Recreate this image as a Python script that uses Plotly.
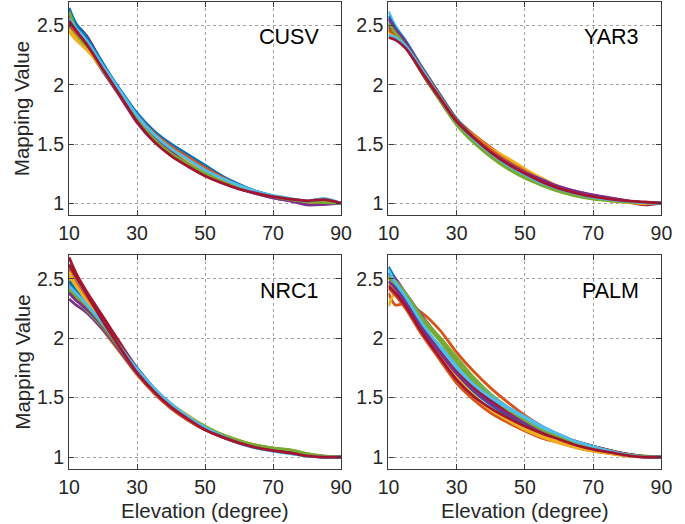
import plotly.graph_objects as go

# ---------------- data ----------------
elevation = [10, 12, 15, 20, 25, 30, 35, 40, 45, 50, 55, 60, 65, 70, 75, 80, 85, 90]
x_ticks = [10, 30, 50, 70, 90]
y_ticks = [1, 1.5, 2, 2.5]
y_tick_labels = ["1", "1.5", "2", "2.5"]
stations = ["CUSV", "YAR3", "NRC1", "PALM"]

cusv = [
    [2.60, 2.50, 2.40, 2.17, 1.96, 1.76, 1.61, 1.50, 1.41, 1.32, 1.23, 1.16, 1.10, 1.06, 1.035, 1.015, 1.005, 1.0],
    [2.50, 2.42, 2.33, 2.13, 1.92, 1.72, 1.57, 1.47, 1.38, 1.29, 1.21, 1.145, 1.09, 1.055, 1.03, 1.01, 1.005, 1.0],
    [2.47, 2.40, 2.32, 2.14, 1.93, 1.71, 1.55, 1.44, 1.35, 1.26, 1.19, 1.135, 1.09, 1.055, 1.03, 1.012, 1.005, 1.0],
    [2.52, 2.44, 2.33, 2.11, 1.90, 1.68, 1.52, 1.41, 1.32, 1.24, 1.17, 1.12, 1.08, 1.045, 1.02, 0.99, 0.99, 1.0],
    [2.55, 2.44, 2.32, 2.12, 1.91, 1.70, 1.53, 1.41, 1.32, 1.24, 1.175, 1.125, 1.085, 1.05, 1.03, 1.01, 1.005, 1.0],
    [2.58, 2.50, 2.38, 2.16, 1.94, 1.73, 1.56, 1.44, 1.34, 1.25, 1.19, 1.14, 1.095, 1.06, 1.035, 1.015, 1.04, 1.0],
    [2.52, 2.50, 2.42, 2.17, 1.92, 1.69, 1.53, 1.44, 1.37, 1.30, 1.22, 1.15, 1.10, 1.06, 1.035, 1.01, 1.0, 1.0],
    [2.65, 2.52, 2.41, 2.18, 1.95, 1.75, 1.60, 1.49, 1.40, 1.31, 1.22, 1.155, 1.10, 1.06, 1.035, 1.015, 1.005, 1.0],
    [2.55, 2.45, 2.35, 2.15, 1.94, 1.74, 1.59, 1.48, 1.39, 1.30, 1.22, 1.15, 1.095, 1.055, 1.03, 1.01, 1.005, 1.0],
    [2.45, 2.38, 2.30, 2.13, 1.93, 1.73, 1.58, 1.46, 1.36, 1.27, 1.19, 1.13, 1.085, 1.05, 1.03, 1.012, 1.005, 1.0],
    [2.58, 2.47, 2.36, 2.14, 1.92, 1.71, 1.55, 1.43, 1.33, 1.25, 1.18, 1.125, 1.08, 1.045, 1.02, 0.985, 0.99, 1.0],
    [2.62, 2.48, 2.36, 2.15, 1.93, 1.71, 1.54, 1.42, 1.33, 1.25, 1.18, 1.13, 1.09, 1.055, 1.03, 1.012, 1.005, 1.0],
    [2.56, 2.48, 2.38, 2.16, 1.95, 1.74, 1.58, 1.46, 1.37, 1.28, 1.21, 1.15, 1.10, 1.065, 1.04, 1.02, 1.035, 1.0],
    [2.54, 2.46, 2.35, 2.13, 1.91, 1.69, 1.52, 1.40, 1.31, 1.23, 1.17, 1.12, 1.085, 1.055, 1.035, 1.02, 1.03, 1.0],
]

yar3 = [
    [2.55, 2.47, 2.37, 2.13, 1.91, 1.70, 1.56, 1.44, 1.34, 1.26, 1.18, 1.12, 1.08, 1.05, 1.03, 1.015, 1.005, 1.0],
    [2.48, 2.44, 2.36, 2.14, 1.92, 1.71, 1.58, 1.47, 1.37, 1.28, 1.20, 1.13, 1.085, 1.05, 1.03, 1.01, 1.0, 1.0],
    [2.45, 2.42, 2.34, 2.13, 1.91, 1.70, 1.57, 1.46, 1.38, 1.29, 1.21, 1.14, 1.09, 1.055, 1.03, 1.01, 0.995, 1.0],
    [2.52, 2.46, 2.35, 2.11, 1.89, 1.69, 1.55, 1.43, 1.33, 1.26, 1.19, 1.14, 1.10, 1.07, 1.045, 1.02, 1.005, 1.0],
    [2.47, 2.42, 2.32, 2.09, 1.87, 1.66, 1.51, 1.39, 1.29, 1.21, 1.15, 1.10, 1.06, 1.035, 1.02, 1.01, 1.005, 1.0],
    [2.62, 2.50, 2.37, 2.12, 1.90, 1.69, 1.55, 1.43, 1.33, 1.25, 1.18, 1.13, 1.09, 1.06, 1.035, 1.015, 1.005, 1.0],
    [2.50, 2.44, 2.33, 2.09, 1.88, 1.68, 1.55, 1.44, 1.34, 1.25, 1.18, 1.12, 1.08, 1.045, 1.025, 1.01, 0.985, 1.0],
    [2.58, 2.48, 2.37, 2.14, 1.92, 1.71, 1.56, 1.44, 1.34, 1.25, 1.18, 1.12, 1.08, 1.05, 1.03, 1.015, 1.005, 1.0],
    [2.46, 2.43, 2.35, 2.13, 1.91, 1.70, 1.56, 1.45, 1.35, 1.27, 1.19, 1.13, 1.085, 1.05, 1.03, 1.01, 1.0, 1.0],
    [2.43, 2.40, 2.32, 2.11, 1.89, 1.68, 1.54, 1.43, 1.34, 1.26, 1.19, 1.13, 1.08, 1.045, 1.02, 1.005, 0.995, 1.0],
    [2.56, 2.47, 2.36, 2.12, 1.90, 1.69, 1.55, 1.43, 1.34, 1.26, 1.20, 1.14, 1.10, 1.065, 1.04, 1.02, 1.005, 1.0],
    [2.52, 2.44, 2.33, 2.10, 1.88, 1.67, 1.52, 1.40, 1.30, 1.22, 1.15, 1.10, 1.065, 1.04, 1.02, 1.01, 1.005, 1.0],
    [2.42, 2.40, 2.33, 2.12, 1.90, 1.69, 1.54, 1.42, 1.32, 1.24, 1.17, 1.12, 1.08, 1.05, 1.03, 1.015, 1.005, 1.0],
    [2.40, 2.38, 2.31, 2.10, 1.89, 1.69, 1.55, 1.43, 1.33, 1.25, 1.18, 1.125, 1.085, 1.055, 1.035, 1.02, 1.01, 1.0],
]

nrc1 = [
    [2.55, 2.46, 2.35, 2.15, 1.95, 1.75, 1.58, 1.44, 1.33, 1.24, 1.17, 1.12, 1.08, 1.055, 1.035, 1.015, 1.0, 1.0],
    [2.45, 2.36, 2.25, 2.07, 1.88, 1.70, 1.55, 1.43, 1.33, 1.25, 1.19, 1.14, 1.10, 1.075, 1.05, 1.02, 1.005, 1.0],
    [2.52, 2.40, 2.27, 2.07, 1.88, 1.69, 1.54, 1.42, 1.33, 1.25, 1.18, 1.13, 1.09, 1.065, 1.045, 1.02, 1.005, 1.0],
    [2.33, 2.28, 2.22, 2.07, 1.89, 1.70, 1.54, 1.41, 1.31, 1.23, 1.17, 1.12, 1.085, 1.06, 1.04, 1.01, 1.0, 1.0],
    [2.40, 2.33, 2.24, 2.09, 1.91, 1.72, 1.56, 1.43, 1.33, 1.25, 1.19, 1.14, 1.10, 1.075, 1.06, 1.03, 1.005, 1.0],
    [2.60, 2.50, 2.37, 2.16, 1.95, 1.74, 1.57, 1.44, 1.33, 1.24, 1.17, 1.115, 1.075, 1.05, 1.03, 1.01, 1.0, 1.0],
    [2.68, 2.55, 2.40, 2.18, 1.96, 1.74, 1.57, 1.43, 1.32, 1.23, 1.17, 1.12, 1.085, 1.06, 1.045, 1.02, 1.005, 1.0],
    [2.48, 2.40, 2.30, 2.12, 1.92, 1.72, 1.56, 1.43, 1.33, 1.24, 1.18, 1.13, 1.09, 1.065, 1.045, 1.02, 1.0, 1.0],
    [2.58, 2.47, 2.34, 2.13, 1.92, 1.71, 1.54, 1.41, 1.31, 1.23, 1.17, 1.12, 1.09, 1.065, 1.045, 1.02, 1.005, 1.0],
    [2.56, 2.45, 2.32, 2.12, 1.92, 1.72, 1.57, 1.45, 1.35, 1.26, 1.19, 1.14, 1.10, 1.07, 1.05, 1.02, 1.005, 1.0],
    [2.38, 2.32, 2.25, 2.10, 1.92, 1.73, 1.57, 1.44, 1.33, 1.24, 1.18, 1.13, 1.09, 1.065, 1.045, 1.015, 1.0, 1.0],
    [2.42, 2.36, 2.28, 2.11, 1.92, 1.73, 1.57, 1.44, 1.34, 1.26, 1.19, 1.14, 1.10, 1.075, 1.06, 1.03, 1.01, 1.0],
    [2.44, 2.38, 2.29, 2.12, 1.93, 1.74, 1.58, 1.45, 1.34, 1.25, 1.18, 1.12, 1.08, 1.05, 1.03, 1.01, 1.0, 1.0],
    [2.62, 2.52, 2.38, 2.14, 1.92, 1.71, 1.55, 1.42, 1.32, 1.23, 1.17, 1.12, 1.08, 1.055, 1.035, 1.01, 1.0, 1.0],
]

palm = [
    [2.60, 2.50, 2.37, 2.12, 1.92, 1.74, 1.60, 1.49, 1.40, 1.32, 1.24, 1.18, 1.13, 1.09, 1.05, 1.02, 1.0, 1.0],
    [2.38, 2.28, 2.29, 2.21, 2.07, 1.88, 1.72, 1.58, 1.46, 1.35, 1.26, 1.19, 1.13, 1.09, 1.055, 1.025, 1.005, 1.0],
    [2.27, 2.38, 2.30, 2.05, 1.85, 1.66, 1.51, 1.40, 1.31, 1.24, 1.18, 1.13, 1.09, 1.06, 1.035, 1.015, 1.005, 1.0],
    [2.55, 2.50, 2.38, 2.18, 2.00, 1.80, 1.64, 1.51, 1.40, 1.31, 1.24, 1.18, 1.13, 1.09, 1.055, 1.025, 1.005, 1.0],
    [2.50, 2.48, 2.38, 2.17, 2.01, 1.84, 1.67, 1.53, 1.42, 1.33, 1.25, 1.19, 1.13, 1.09, 1.055, 1.025, 1.01, 1.0],
    [2.45, 2.43, 2.33, 2.10, 1.94, 1.78, 1.64, 1.52, 1.42, 1.34, 1.26, 1.19, 1.13, 1.085, 1.05, 1.02, 1.0, 1.0],
    [2.52, 2.45, 2.34, 2.10, 1.91, 1.72, 1.58, 1.47, 1.38, 1.31, 1.24, 1.18, 1.13, 1.09, 1.055, 1.025, 1.005, 1.0],
    [2.55, 2.45, 2.33, 2.08, 1.88, 1.69, 1.55, 1.44, 1.35, 1.28, 1.21, 1.16, 1.11, 1.075, 1.045, 1.02, 1.0, 1.0],
    [2.42, 2.36, 2.25, 2.02, 1.82, 1.62, 1.48, 1.37, 1.29, 1.22, 1.16, 1.12, 1.08, 1.05, 1.03, 1.01, 1.0, 1.0],
    [2.46, 2.40, 2.28, 2.06, 1.86, 1.67, 1.52, 1.40, 1.31, 1.23, 1.17, 1.12, 1.08, 1.05, 1.03, 1.01, 1.0, 1.0],
    [2.48, 2.42, 2.30, 2.07, 1.88, 1.70, 1.56, 1.45, 1.36, 1.29, 1.22, 1.17, 1.12, 1.08, 1.05, 1.02, 1.005, 1.0],
    [2.52, 2.46, 2.36, 2.15, 1.98, 1.80, 1.64, 1.51, 1.40, 1.31, 1.23, 1.17, 1.12, 1.08, 1.05, 1.02, 1.005, 1.0],
    [2.58, 2.47, 2.35, 2.12, 1.93, 1.75, 1.61, 1.50, 1.41, 1.33, 1.25, 1.19, 1.13, 1.09, 1.05, 1.02, 1.0, 1.0],
    [2.44, 2.38, 2.27, 2.04, 1.84, 1.65, 1.51, 1.41, 1.33, 1.26, 1.20, 1.15, 1.10, 1.065, 1.04, 1.015, 1.0, 1.0],
]

# ---------------- styling ----------------
colors = ["#0072BD", "#D95319", "#EDB120", "#7E2F8E", "#77AC30", "#4DBEEE", "#A2142F"]
W, H = 685, 524
FONT = "Liberation Sans, Arial, Helvetica, sans-serif"
TXT = "#262626"

# axis boxes in pixels (left, right, top, bottom)
boxes = [(60, 341, 2, 215), (390, 672, 2, 215), (60, 341, 255, 469), (390, 672, 255, 469)]

fig = go.Figure()
panel_data = [cusv, yar3, nrc1, palm]
for p, curves in enumerate(panel_data):
    ax = "" if p == 0 else str(p + 1)
    for i, c in enumerate(curves):
        fig.add_trace(go.Scatter(
            x=elevation, y=c, mode="lines",
            line=dict(color=colors[i % 7], width=2.8, shape="spline", smoothing=0.8),
            xaxis="x" + ax, yaxis="y" + ax, showlegend=False, hoverinfo="skip"))

layout = dict(width=W, height=H, margin=dict(l=0, r=0, t=0, b=0),
              paper_bgcolor="white", plot_bgcolor="white", showlegend=False,
              font=dict(family=FONT, color=TXT))

common_axis = dict(showline=True, linecolor="#3a3a3a", linewidth=1.3, mirror="ticks",
                   ticks="inside", ticklen=5, tickcolor="#3a3a3a", tickwidth=1.3,
                   showgrid=True, gridcolor="#a0a0a0", griddash="dot", gridwidth=1.2,
                   zeroline=False, tickfont=dict(family=FONT, size=19.5, color=TXT))

annotations = []
for p, (l, r, t, b) in enumerate(boxes):
    ax = "" if p == 0 else str(p + 1)
    xd = [l / W, r / W]
    yd = [1 - b / H, 1 - t / H]
    layout["xaxis" + ax] = dict(common_axis, domain=xd, range=[10, 90], tickvals=x_ticks,
                                anchor="y" + ax)
    layout["yaxis" + ax] = dict(common_axis, domain=yd, range=[0.9, 2.7], tickvals=y_ticks,
                                ticktext=y_tick_labels, anchor="x" + ax)
    annotations.append(dict(text=stations[p], xref="x" + ax, yref="y" + ax, x=84, y=2.4,
                            xanchor="right", yanchor="middle", showarrow=False,
                            font=dict(family=FONT, size=21.5, color="black")))

# axis titles
for (l, r, t, b) in [boxes[0], boxes[2]]:
    annotations.append(dict(text="Mapping Value", xref="paper", yref="paper",
                            x=11 / W, y=1 - ((t + b) / 2) / H, textangle=-90,
                            xanchor="center", yanchor="middle", showarrow=False,
                            font=dict(family=FONT, size=20.5, color=TXT)))
for (l, r, t, b) in [boxes[2], boxes[3]]:
    annotations.append(dict(text="Elevation (degree)", xref="paper", yref="paper",
                            x=((l + r) / 2) / W, y=1 - 510 / H,
                            xanchor="center", yanchor="middle", showarrow=False,
                            font=dict(family=FONT, size=20.5, color=TXT)))
layout["annotations"] = annotations

fig.update_layout(**layout)
fig.write_html("out.html", config={"displayModeBar": False},
               post_script="document.body.style.margin='0px';")
